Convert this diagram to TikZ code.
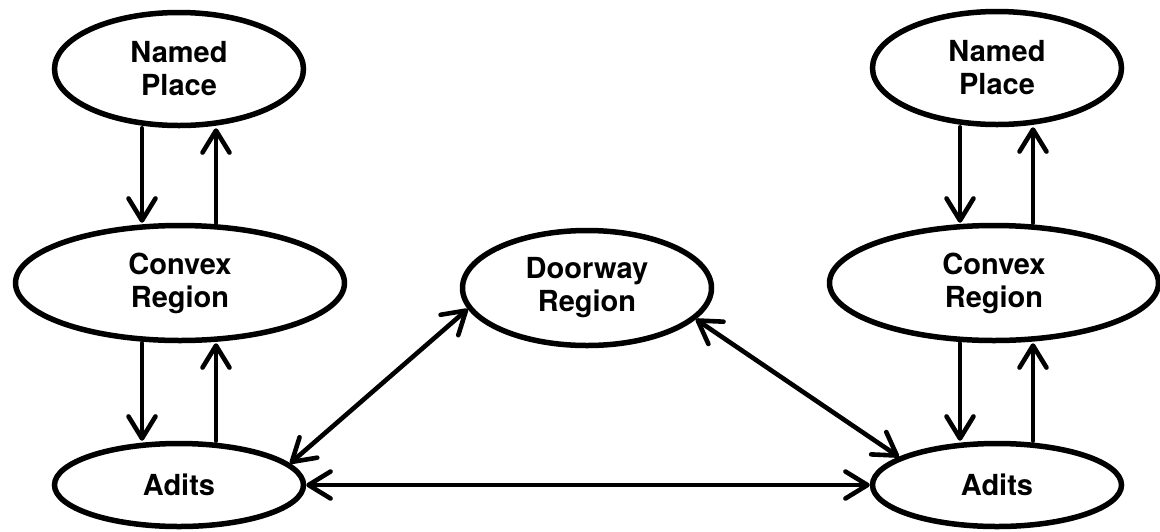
\documentclass[tikz,border=0pt]{standalone}
\usepackage{fontspec}
\setmainfont{TeX Gyre Heros}
\usetikzlibrary{arrows.meta,shapes.geometric}
\tikzset{
  blob/.style={ellipse, draw, line width=5.5pt, inner sep=0pt, align=center,
    font=\fontsize{29}{33}\selectfont\bfseries},
  bigblob/.style={blob, minimum width=249pt, minimum height=113pt},
  widblob/.style={blob, minimum width=329pt, minimum height=115pt},
  flatblob/.style={blob, minimum width=249pt, minimum height=83pt},
  link/.style={line width=4.6pt, line cap=round,
    -{Straight Barb[length=22pt,width=27pt,line cap=round,line join=round]}},
  duolink/.style={line width=4.6pt, line cap=round,
    {Straight Barb[length=22pt,width=27pt,line cap=round,line join=round]}-{Straight Barb[length=22pt,width=27pt,line cap=round,line join=round]}}
}
\begin{document}
\begin{tikzpicture}[x=1pt,y=-1pt]
\useasboundingbox (0,0) rectangle (1160,531);
% left column
\node[bigblob]  (NP1) at (179,69)  {Named\\Place};
\node[widblob]  (CR1) at (180,283) {Convex\\Region};
\node[flatblob] (AD1) at (179,485) {Adits};
% right column
\node[bigblob]  (NP2) at (997,68)  {Named\\Place};
\node[widblob]  (CR2) at (994,283) {Convex\\Region};
\node[flatblob] (AD2) at (997,485) {Adits};
% middle
\node[bigblob, minimum height=115pt] (DR) at (587,288) {Doorway\\Region};
% left vertical arrows
\draw[link] ([xshift=-37pt]NP1.south) -- ([xshift=-38pt]CR1.north);
\draw[link] ([xshift=36pt]CR1.north) -- ([xshift=37pt]NP1.south);
\draw[link] ([xshift=-38pt]CR1.south) -- ([xshift=-37pt]AD1.north);
\draw[link] ([xshift=37pt]AD1.north) -- ([xshift=36pt]CR1.south);
% right vertical arrows
\draw[link] ([xshift=-37pt]NP2.south) -- ([xshift=-34pt]CR2.north);
\draw[link] ([xshift=39pt]CR2.north) -- ([xshift=36pt]NP2.south);
\draw[link] ([xshift=-34pt]CR2.south) -- ([xshift=-37pt]AD2.north);
\draw[link] ([xshift=36pt]AD2.north) -- ([xshift=39pt]CR2.south);
% doorway links
\draw[duolink] (DR.190) -- (AD1.11);
\draw[duolink] (DR.-16) -- (AD2.164);
\draw[duolink] (AD1.east) -- (AD2.west);
\end{tikzpicture}
\end{document}
